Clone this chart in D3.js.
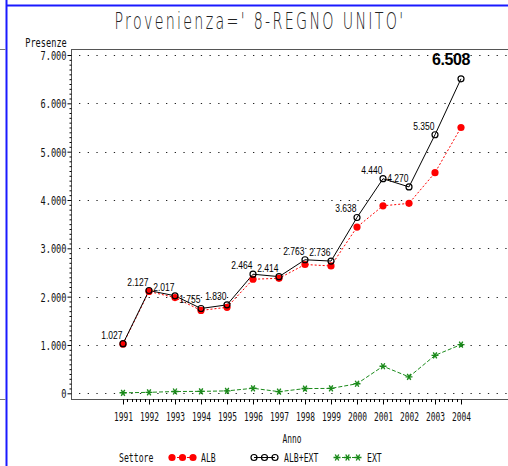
<!DOCTYPE html>
<html>
<head>
<meta charset="utf-8">
<script src="https://cdn.jsdelivr.net/npm/d3@7"></script>
<style>
body { margin: 0; background: #fff; }
svg { display: block; }
.sas { font-family: "DejaVu Sans Mono", monospace; font-size: 12px; fill: #111; }
.lbl { font-family: "Liberation Sans", Arial, sans-serif; font-size: 11.5px; fill: #000; }
</style>
</head>
<body>
<div id="chart"></div>
<script>
var width = 508,
	height = 466,
	narrow = 0.66;

var years = [1991, 1992, 1993, 1994, 1995, 1996, 1997, 1998, 1999, 2000, 2001, 2002, 2003, 2004];
var albExt = [1027, 2127, 2017, 1755, 1830, 2464, 2414, 2763, 2736, 3638, 4440, 4270, 5350, 6508];
var alb = [1017, 2107, 1980, 1715, 1780, 2360, 2380, 2665, 2635, 3440, 3880, 3930, 4565, 5500];
var ext = [10, 20, 37, 40, 50, 104, 34, 98, 101, 198, 560, 340, 785, 1008];
var yTicks = [0, 1000, 2000, 3000, 4000, 5000, 6000, 7000];
var legendItems = ["ALB", "ALB+EXT", "EXT"];

var it = d3.formatLocale({decimal: ",", thousands: ".", grouping: [3], currency: ["", "€"]});
var fmt = it.format(",d");

var svg = d3.select("#chart").append("svg")
	.attr("width", width)
	.attr("height", height);

var x = d3.scalePoint().domain(years).range([123, 461]),
	y = d3.scaleLinear().domain([0, 7000]).range([393.3, 55]);

var frame = {left: 71, top: 49, bottom: 399, right: width};

// squeeze a text horizontally around its own x (the SAS fonts are very narrow)
function squeeze(sel, sx, xpos, ypos){
	sel.attr("x", 0).attr("y", 0)
		.attr("transform", "translate(" + xpos + "," + ypos + ") scale(" + sx + ",1)");
	return sel;
}

// page border bits
svg.append("line").attr("x1", 7).attr("x2", width).attr("y1", 5.5).attr("y2", 5.5)
	.attr("stroke", "#1a1aff").attr("stroke-width", 2);
svg.append("line").attr("x1", 6.5).attr("x2", 6.5).attr("y1", 0).attr("y2", height)
	.attr("stroke", "#1a1aff").attr("stroke-width", 2);
[frame.top, frame.bottom].forEach(function(v){
	svg.append("line").attr("x1", 0).attr("x2", 5.5).attr("y1", v + 0.5).attr("y2", v + 0.5)
		.attr("stroke", "#777");
});

// title
svg.append("text")
	.attr("text-anchor", "middle")
	.attr("font-family", "'DejaVu Sans', sans-serif")
	.attr("font-weight", 200)
	.attr("font-size", 23)
	.attr("letter-spacing", "3.7px")
	.attr("fill", "#222")
	.text("Provenienza=' 8-REGNO UNITO'")
	.call(squeeze, 0.62, 260, 28.5);

// grid
svg.append("g").selectAll("line")
	.data(yTicks).enter()
	.append("line")
	.attr("x1", frame.left + 8).attr("x2", width)
	.attr("y1", function(d){ return Math.round(y(d)) + 0.5; })
	.attr("y2", function(d){ return Math.round(y(d)) + 0.5; })
	.attr("stroke", "#222")
	.attr("stroke-dasharray", "1.3,7.4");

// frame
svg.append("line").attr("x1", frame.left).attr("x2", width).attr("y1", frame.top + 0.5).attr("y2", frame.top + 0.5)
	.attr("stroke", "#555");
svg.append("line").attr("x1", frame.left).attr("x2", width).attr("y1", frame.bottom + 0.5).attr("y2", frame.bottom + 0.5)
	.attr("stroke", "#555");
svg.append("line").attr("x1", frame.left + 0.5).attr("x2", frame.left + 0.5).attr("y1", frame.top).attr("y2", frame.bottom)
	.attr("stroke", "#555");

// y axis
var yMinor = d3.range(0, 7001, 100).filter(function(d){ return d % 1000 != 0; });
svg.append("g")
	.attr("transform", "translate(" + (frame.left + 0.5) + ",0)")
	.call(d3.axisLeft(y).tickValues(yMinor).tickSize(2).tickFormat("").tickSizeOuter(0))
	.call(function(g){ g.select(".domain").remove(); });
svg.append("g")
	.attr("transform", "translate(" + (frame.left + 0.5) + ",0)")
	.call(d3.axisLeft(y).tickValues(yTicks).tickSize(4).tickFormat(fmt).tickSizeOuter(0))
	.call(function(g){
		g.select(".domain").remove();
		g.selectAll("text").attr("class", "sas").attr("font-size", null).attr("font-family", null)
			.attr("dy", null).attr("dominant-baseline", null)
			.each(function(){ squeeze(d3.select(this), 0.72, -5, 4.5); });
	});

// x axis
var step = x.step();
var xMinor = [];
years.slice(0, -1).forEach(function(yr){
	for (var k = 1; k < 6; k++) xMinor.push(x(yr) + step * k / 6);
});
svg.append("g").selectAll("line")
	.data(xMinor).enter()
	.append("line")
	.attr("x1", function(d){ return Math.round(d) + 0.5; })
	.attr("x2", function(d){ return Math.round(d) + 0.5; })
	.attr("y1", frame.bottom).attr("y2", frame.bottom + 3)
	.attr("stroke", "#000");
svg.append("g")
	.attr("transform", "translate(0," + (frame.bottom + 0.5) + ")")
	.call(d3.axisBottom(x).tickSize(5).tickSizeOuter(0))
	.call(function(g){
		g.select(".domain").remove();
		g.selectAll("text").attr("class", "sas").attr("font-size", null).attr("font-family", null)
			.attr("dy", null)
			.each(function(){ squeeze(d3.select(this), narrow, 0, 21.5); });
	});

// axis titles
svg.append("text").attr("class", "sas").attr("text-anchor", "middle").attr("font-size", 10.5)
	.text("Presenze").call(squeeze, 0.72, 46, 47);
svg.append("text").attr("class", "sas").attr("text-anchor", "middle")
	.text("Anno").call(squeeze, narrow, 292, 443);

// series
var line = d3.line()
	.x(function(d, i){ return x(years[i]); })
	.y(function(d){ return y(d); });

svg.append("path").datum(alb)
	.attr("d", line).attr("fill", "none")
	.attr("stroke", "#ff0000").attr("stroke-dasharray", "2,2");
svg.append("path").datum(ext)
	.attr("d", line).attr("fill", "none")
	.attr("stroke", "#1a8a1a").attr("stroke-dasharray", "4,2");
svg.append("path").datum(albExt)
	.attr("d", line).attr("fill", "none")
	.attr("stroke", "#000");

var star = "M-3.5,0L3.5,0M-1.75,-3L1.75,3M-1.75,3L1.75,-3";

function drawMarker(g, kind, cx, cy){
	if (kind == "ALB") {
		g.append("circle").attr("cx", cx).attr("cy", cy).attr("r", 3.6).attr("fill", "#ff0000");
	} else if (kind == "ALB+EXT") {
		g.append("circle").attr("cx", cx).attr("cy", cy).attr("r", 3).attr("fill", "none")
			.attr("stroke", "#000").attr("stroke-width", 1.2);
	} else {
		g.append("path").attr("d", star).attr("transform", "translate(" + cx + "," + cy + ")")
			.attr("stroke", "#1a8a1a").attr("stroke-width", 1.4);
	}
}

var marks = svg.append("g");
alb.forEach(function(d, i){ drawMarker(marks, "ALB", x(years[i]), y(d)); });
ext.forEach(function(d, i){ drawMarker(marks, "EXT", x(years[i]), y(d)); });
albExt.forEach(function(d, i){ drawMarker(marks, "ALB+EXT", x(years[i]), y(d)); });

// value labels
var lbls = svg.append("g");
albExt.slice(0, -1).forEach(function(d, i){
	lbls.append("text")
		.attr("class", "lbl")
		.attr("text-anchor", "end")
		.text(fmt(d))
		.call(squeeze, 0.74, x(years[i]) - 0.5, y(d) - 5);
});
var last = albExt.length - 1;
svg.append("text")
	.attr("x", x(years[last]) + 9)
	.attr("y", y(albExt[last]) - 14)
	.attr("text-anchor", "end")
	.attr("font-family", "'Liberation Sans', Arial, sans-serif")
	.attr("font-weight", "bold")
	.attr("font-size", 16)
	.attr("letter-spacing", "-0.4px")
	.text(fmt(albExt[last]));

// legend
svg.append("text").attr("class", "sas").text("Settore").call(squeeze, 0.68, 119, 462);
var legendX = [172, 254, 337],
	legendTextX = [201, 284, 367];
legendItems.forEach(function(k, i){
	var g = svg.append("g");
	var x0 = legendX[i];
	g.append("line").attr("x1", x0).attr("x2", x0 + 21).attr("y1", 457.5).attr("y2", 457.5)
		.attr("stroke", k == "ALB" ? "#ff0000" : (k == "EXT" ? "#1a8a1a" : "#000"))
		.attr("stroke-dasharray", k == "ALB+EXT" ? null : "3,2");
	for (var j = 0; j < 3; j++) drawMarker(g, k, x0 + j * 10.5, 457.5);
	g.append("text").attr("class", "sas").text(k).call(squeeze, 0.68, legendTextX[i], 462);
});
</script>
</body>
</html>
